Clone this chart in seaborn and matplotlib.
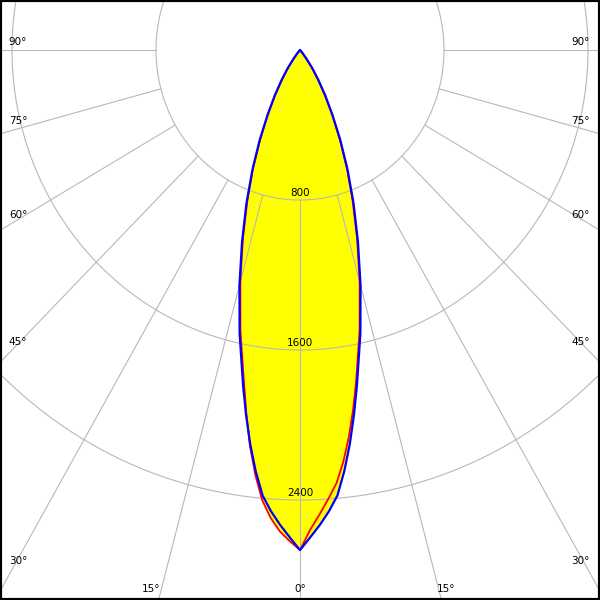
import matplotlib
matplotlib.use("Agg")
import matplotlib.pyplot as plt
import numpy as np
import pandas as pd
import seaborn as sns


# Donnees photometriques (cd), angle gamma depuis la verticale descendante
ANGLES = [0, 1.25, 2.5, 3.75, 5, 6.25, 7.5, 8.75, 10, 12.5, 15, 17.5, 20, 22.5, 25,
          27.5, 30, 32.5, 35, 37.5, 40, 42.5, 45, 90]
C90_C270 = [2667, 2600, 2535, 2465, 2385, 2260, 2120, 1970, 1820, 1550, 1300, 1070, 870,
            690, 530, 390, 280, 190, 120, 60, 25, 5, 0, 0]
C0 = [2667, 2560, 2480, 2400, 2320, 2210, 2080, 1940, 1795, 1530, 1280, 1055, 855,
      680, 520, 385, 275, 185, 118, 58, 24, 5, 0, 0]
C180 = [2667, 2620, 2570, 2500, 2410, 2280, 2130, 1960, 1795, 1530, 1280, 1055, 855,
        680, 520, 385, 275, 185, 118, 58, 24, 5, 0, 0]

RINGS = [800, 1600, 2400]
RING_LABELS = ["800", "1600", "2400"]
SPOKES = [15, 30, 45, 60, 75, 90]
SIDE_LABELS = ["90°", "75°", "60°", "45°", "30°"]
SIDE_LABEL_Y = [0.930, 0.798, 0.642, 0.430, 0.065]
BOTTOM_LABELS = ["15°", "0°", "15°"]
BOTTOM_LABEL_X = [0.252, 0.500, 0.743]

GRID = "#b8b8b8"


def sweep(left, right):
    a = np.radians(ANGLES)
    left = np.array(left, dtype=float)
    right = np.array(right, dtype=float)
    xl, yl = -left * np.sin(a), -left * np.cos(a)
    xr, yr = right * np.sin(a), -right * np.cos(a)
    x = np.concatenate([xl[::-1], xr[1:]])
    y = np.concatenate([yl[::-1], yr[1:]])
    return pd.DataFrame({"x": x, "y": y})


sns.set_style("white")
plt.rcParams["font.family"] = ["DejaVu Sans"]

fig = plt.figure(figsize=(6, 6), dpi=100)
ax = fig.add_axes([0, 0, 1, 1])
ax.set_xlim(-1666.7, 1666.7)
ax.set_ylim(-2933.3, 266.7)

blue = sweep(C90_C270, C90_C270)
red = sweep(C180, C0)

# remplissage
ax.fill(blue["x"], blue["y"], color="#ffff00", zorder=1, lw=0)
ax.fill(red["x"], red["y"], color="#ffff00", zorder=1, lw=0)

# grille polaire
t = np.radians(np.linspace(0, 360, 721))
for r in RINGS:
    ax.plot(r * np.sin(t), r * np.cos(t), color=GRID, lw=0.8, zorder=2)
r0, r1 = RINGS[0], 6000
ax.plot([0, 0], [-r0, -r1], color=GRID, lw=0.8, zorder=2)
for s in SPOKES:
    a = np.radians(s)
    for sign in (-1, 1):
        ax.plot([sign * r0 * np.sin(a), sign * r1 * np.sin(a)],
                [-r0 * np.cos(a), -r1 * np.cos(a)], color=GRID, lw=0.8, zorder=2)

# courbes
sns.lineplot(data=red, x="x", y="y", sort=False, estimator=None, color="#ff0000",
             lw=1.3, ax=ax, zorder=3)
sns.lineplot(data=blue, x="x", y="y", sort=False, estimator=None, color="#0000ff",
             lw=1.6, ax=ax, zorder=4)

# etiquettes
for r, lab in zip(RINGS, RING_LABELS):
    ax.annotate(lab, (0, -r), xytext=(0, 5), textcoords="offset points",
                ha="center", va="center", fontsize=7.5, color="black", zorder=5)
for lab, yy in zip(SIDE_LABELS, SIDE_LABEL_Y):
    ax.text(0.030, yy, lab, transform=ax.transAxes, ha="center", va="center",
            fontsize=7.5, color="black")
    ax.text(0.968, yy, lab, transform=ax.transAxes, ha="center", va="center",
            fontsize=7.5, color="black")
for lab, xx in zip(BOTTOM_LABELS, BOTTOM_LABEL_X):
    ax.text(xx, 0.018, lab, transform=ax.transAxes, ha="center", va="center",
            fontsize=7.5, color="black")

ax.set_xlabel("")
ax.set_ylabel("")
ax.set_xticks([])
ax.set_yticks([])
for sp in ax.spines.values():
    sp.set_color("black")
    sp.set_linewidth(3)

fig.savefig("out.png", dpi=100)
